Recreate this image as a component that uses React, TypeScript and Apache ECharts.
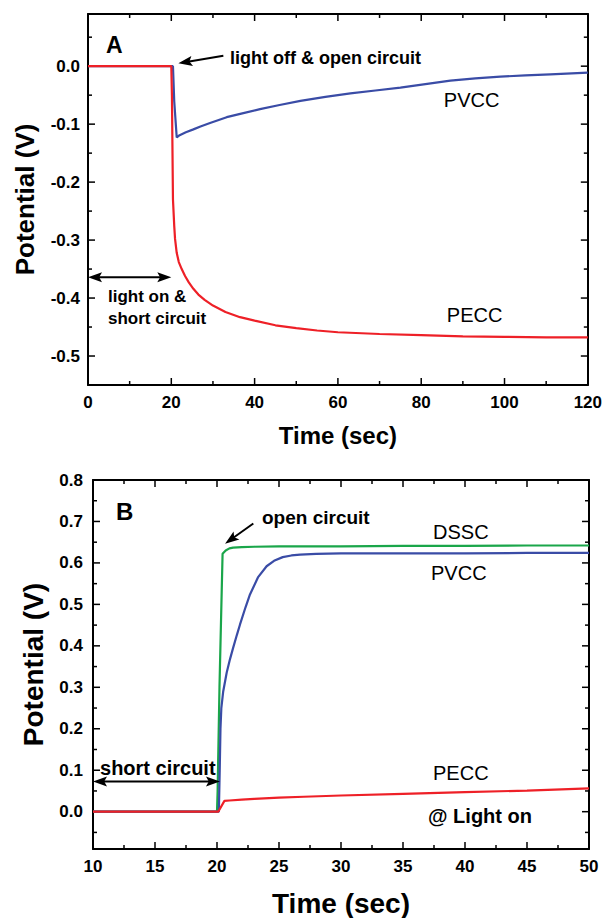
import React, { useEffect, useRef } from 'react';
import * as echarts from 'echarts';

// ---------- Panel A data (Time s, Potential V) ----------
const tA_PVCC = [0, 20, 20.4, 20.7, 21.3, 22, 23.5, 25.3, 27, 29.3, 33.3, 37.3, 41.3, 46, 51, 57, 63, 69, 75, 81, 87, 93, 99, 105, 111, 120];
const vA_PVCC = [0, 0, 0, -0.06, -0.123, -0.119, -0.114, -0.109, -0.104, -0.098, -0.088, -0.081, -0.074, -0.067, -0.06, -0.053, -0.047, -0.042, -0.037, -0.031, -0.025, -0.021, -0.018, -0.016, -0.014, -0.011];
const tA_PECC = [0, 20, 20.15, 20.4, 20.7, 20.9, 21.3, 21.8, 22.5, 23.3, 24.2, 25.3, 26.5, 28, 30, 33, 36.5, 40, 45, 50, 55, 60, 70, 80, 90, 100, 110, 120];
const vA_PECC = [0, 0, -0.05, -0.23, -0.275, -0.298, -0.322, -0.338, -0.35, -0.362, -0.373, -0.384, -0.394, -0.403, -0.413, -0.424, -0.433, -0.439, -0.447, -0.452, -0.456, -0.459, -0.462, -0.464, -0.466, -0.467, -0.468, -0.468];

// ---------- Panel B data ----------
const tB_DSSC = [10, 20, 20.05, 20.2, 20.45, 20.7, 21, 21.3, 22, 23, 25, 30, 35, 40, 45, 50];
const vB_DSSC = [0, 0, 0.05, 0.3, 0.622, 0.63, 0.635, 0.637, 0.638, 0.639, 0.64, 0.64, 0.641, 0.641, 0.642, 0.642];
const tB_PVCC = [10, 20.15, 20.22, 20.28, 20.35, 20.5, 20.78, 21.05, 21.3, 21.6, 21.85, 22.3, 22.66, 23.3, 24, 24.6, 25.3, 26, 26.7, 28, 30, 35, 40, 45, 50];
const vB_PVCC = [0, 0, 0.1, 0.2, 0.25, 0.29, 0.335, 0.368, 0.395, 0.426, 0.451, 0.493, 0.524, 0.565, 0.592, 0.605, 0.614, 0.618, 0.62, 0.622, 0.623, 0.623, 0.623, 0.624, 0.624];
const tB_PECC = [10, 20.1, 20.6, 21, 22, 23, 25, 27, 30, 35, 40, 45, 50];
const vB_PECC = [0, 0, 0.026, 0.027, 0.029, 0.031, 0.034, 0.036, 0.039, 0.043, 0.047, 0.051, 0.056];

// ---------- Axis ranges ----------
const xRangeA = [0, 120];
const xIntervalA = 20;
const yRangeA = [-0.55, 0.09];
const xRangeB = [10, 50];
const xIntervalB = 5;
const yRangeB = [-0.09, 0.8];
const yMajor = 0.1;

// ---------- Tick positions (major / minor) ----------
const xMajorA = [0, 20, 40, 60, 80, 100, 120];
const xMinorA = [10, 30, 50, 70, 90, 110];
const yMajorA = [-0.5, -0.4, -0.3, -0.2, -0.1, 0.0];
const yMinorA = [-0.45, -0.35, -0.25, -0.15, -0.05, 0.05];
const xMajorB = [10, 15, 20, 25, 30, 35, 40, 45, 50];
const xMinorB = [12.5, 17.5, 22.5, 27.5, 32.5, 37.5, 42.5, 47.5];
const yMajorB = [0.0, 0.1, 0.2, 0.3, 0.4, 0.5, 0.6, 0.7, 0.8];
const yMinorB = [-0.05, 0.05, 0.15, 0.25, 0.35, 0.45, 0.55, 0.65, 0.75];

// ---------- Annotation arrows (data coords: tail -> tip, double-headed flag) ----------
const arrowsA = [
  [32.5, 0.018, 21.7, 0.005, 0],
  [0, -0.364, 20.0, -0.364, 1],
];
const arrowsB = [
  [22.93, 0.695, 20.65, 0.6465, 0],
  [10, 0.073, 20.24, 0.073, 1],
];

// ---------- Annotation texts (anchor: left, vertical middle, in data coords) ----------
const annA_text = ['A', 'light off & open circuit', 'PVCC', 'light on &', 'short circuit', 'PECC'];
const annA_t = [4.32, 34.08, 85.44, 4.8, 4.8, 86.16];
const annA_v = [0.0366, 0.0141, -0.0583, -0.3981, -0.4361, -0.4292];
const annB_text = ['B', 'open circuit', 'DSSC', 'PVCC', 'short circuit', 'PECC', '@ Light on'];
const annB_t = [11.855, 23.63, 37.42, 37.26, 10.565, 37.42, 37.02];
const annB_v = [0.7229, 0.7084, 0.6746, 0.5757, 0.1054, 0.0934, -0.0104];

// styles (font size / bold) for the annotation texts
const annA_style = [[23, true], [18, true], [20, false], [17, true], [17, true], [20, false]];
const annB_style = [[24, true], [19, true], [20, false], [20, false], [20, true], [20, false], [20, true]];

const RED = '#ee2027';
const BLUE = '#3a4ca6';
const GREEN = '#1aa64a';
const FONT = '"Liberation Sans", Arial, Helvetica, sans-serif';

const zip = (t: number[], v: number[]) => t.map((x, i) => [x, v[i]]);

const lineAxis = { show: true, onZero: false, lineStyle: { color: '#000', width: 2 } };

function xAxes(grid: number, range: number[], interval: number, name: string, nameSize: number, nameGap: number) {
  const common: any = {
    gridIndex: grid, type: 'value', min: range[0], max: range[1], interval,
    splitLine: { show: false },
    axisLine: lineAxis,
    axisTick: { show: false },
    minorTick: { show: false },
  };
  return [
    {
      ...common, position: 'bottom',
      axisLabel: { show: true, color: '#000', fontSize: 17, fontWeight: 'bold', fontFamily: FONT, margin: 9 },
      name, nameLocation: 'middle', nameGap,
      nameTextStyle: { color: '#000', fontSize: nameSize, fontWeight: 'bold', fontFamily: FONT },
    },
    { ...common, position: 'top', axisLabel: { show: false } },
  ];
}

function yAxes(grid: number, range: number[], name: string, nameSize: number, nameGap: number, labelMargin: number, showMax: boolean) {
  const major: any = {
    gridIndex: grid, type: 'value', min: range[0], max: range[1], splitLine: { show: false },
    minInterval: yMajor, maxInterval: yMajor,
    axisLine: lineAxis,
    axisTick: { show: false },
  };
  return [
    {
      ...major, position: 'left',
      axisLabel: {
        show: true, color: '#000', fontSize: 17, fontWeight: 'bold', fontFamily: FONT, margin: labelMargin,
        showMinLabel: false, showMaxLabel: showMax,
        formatter: (v: number) => v.toFixed(1),
      },
      name, nameLocation: 'middle', nameGap, nameRotate: 90,
      nameTextStyle: { color: '#000', fontSize: nameSize, fontWeight: 'bold', fontFamily: FONT },
    },
    { ...major, position: 'right', axisLabel: { show: false } },
  ];
}

// tick rows: [x, y, kind]  kind 0 = x major, 1 = x minor, 2 = y major, 3 = y minor
function tickData(xMaj: number[], xMin: number[], yMaj: number[], yMin: number[], x0: number, y0: number) {
  return [
    ...xMaj.map((v) => [v, y0, 0]),
    ...xMin.map((v) => [v, y0, 1]),
    ...yMaj.map((v) => [x0, v, 2]),
    ...yMin.map((v) => [x0, v, 3]),
  ];
}

function tickRender(params: any, api: any) {
  const cs = params.coordSys;
  const kind = api.value(2);
  const len = kind % 2 === 0 ? 7 : 4;
  const style = { stroke: '#000', lineWidth: 1.5 };
  const p = api.coord([api.value(0), api.value(1)]);
  if (kind < 2) {
    const x = p[0];
    const yb = cs.y + cs.height;
    return {
      type: 'group',
      children: [
        { type: 'line', shape: { x1: x, y1: yb, x2: x, y2: yb - len }, style },
        { type: 'line', shape: { x1: x, y1: cs.y, x2: x, y2: cs.y + len }, style },
      ],
    };
  }
  const y = p[1];
  const xr = cs.x + cs.width;
  return {
    type: 'group',
    children: [
      { type: 'line', shape: { x1: cs.x, y1: y, x2: cs.x + len, y2: y }, style },
      { type: 'line', shape: { x1: xr, y1: y, x2: xr - len, y2: y }, style },
    ],
  };
}

function arrowRender(params: any, api: any) {
  const p1 = api.coord([api.value(0), api.value(1)]);
  const p2 = api.coord([api.value(2), api.value(3)]);
  const both = api.value(4) === 1;
  const dx = p2[0] - p1[0];
  const dy = p2[1] - p1[1];
  const L = Math.hypot(dx, dy) || 1;
  const ux = dx / L;
  const uy = dy / L;
  const len = 14;
  const w = 5;
  const head = (tip: number[], sx: number, sy: number) => {
    const bx = tip[0] - sx * len;
    const by = tip[1] - sy * len;
    return {
      type: 'polygon',
      shape: {
        points: [
          [tip[0], tip[1]],
          [bx - sy * w, by + sx * w],
          [tip[0] - sx * len * 0.8, tip[1] - sy * len * 0.8],
          [bx + sy * w, by - sx * w],
        ],
      },
      style: { fill: '#000' },
    };
  };
  const s = both ? [p1[0] + ux * 8, p1[1] + uy * 8] : p1;
  const e = [p2[0] - ux * 8, p2[1] - uy * 8];
  const children: any[] = [
    { type: 'line', shape: { x1: s[0], y1: s[1], x2: e[0], y2: e[1] }, style: { stroke: '#000', lineWidth: 2 } },
    head(p2, ux, uy),
  ];
  if (both) children.push(head(p1, -ux, -uy));
  return { type: 'group', children };
}

function textRender(texts: string[], styles: any[]) {
  return (params: any, api: any) => {
    const p = api.coord([api.value(0), api.value(1)]);
    const st = styles[params.dataIndex];
    return {
      type: 'text', x: p[0], y: p[1],
      style: {
        text: texts[params.dataIndex], fill: '#000',
        font: `${st[1] ? 'bold ' : ''}${st[0]}px ${FONT}`,
        align: 'left', verticalAlign: 'middle',
      },
    };
  };
}

export default function App() {
  const ref = useRef<HTMLDivElement>(null);
  useEffect(() => {
    if (!ref.current) return;
    const chart = echarts.init(ref.current, undefined, { renderer: 'svg' });
    chart.setOption({
      animation: false,
      grid: [
        { left: 88, top: 14, width: 500, height: 371 },
        { left: 93, top: 480, width: 496, height: 369 },
      ],
      xAxis: [
        ...xAxes(0, xRangeA, xIntervalA, 'Time (sec)', 24, 38),
        ...xAxes(1, xRangeB, xIntervalB, 'Time (sec)', 28, 40),
      ],
      yAxis: [
        ...yAxes(0, yRangeA, 'Potential (V)', 26, 50, 8, false),
        ...yAxes(1, yRangeB, 'Potential (V)', 28, 46, 10, true),
      ],
      series: [
        {
          type: 'custom', xAxisIndex: 0, yAxisIndex: 0, silent: true, z: 1, clip: false,
          data: tickData(xMajorA, xMinorA, yMajorA, yMinorA, xRangeA[0], yRangeA[0]), renderItem: tickRender,
        },
        {
          type: 'custom', xAxisIndex: 2, yAxisIndex: 2, silent: true, z: 1, clip: false,
          data: tickData(xMajorB, xMinorB, yMajorB, yMinorB, xRangeB[0], yRangeB[0]), renderItem: tickRender,
        },
        {
          type: 'line', xAxisIndex: 0, yAxisIndex: 0, data: zip(tA_PVCC, vA_PVCC),
          showSymbol: false, lineStyle: { color: BLUE, width: 2.2 }, itemStyle: { color: BLUE },
        },
        {
          type: 'line', xAxisIndex: 0, yAxisIndex: 0, data: zip(tA_PECC, vA_PECC),
          showSymbol: false, lineStyle: { color: RED, width: 2.2 }, itemStyle: { color: RED },
        },
        {
          type: 'line', xAxisIndex: 2, yAxisIndex: 2, data: zip(tB_DSSC, vB_DSSC),
          showSymbol: false, lineStyle: { color: GREEN, width: 2.2 }, itemStyle: { color: GREEN },
        },
        {
          type: 'line', xAxisIndex: 2, yAxisIndex: 2, data: zip(tB_PVCC, vB_PVCC),
          showSymbol: false, lineStyle: { color: BLUE, width: 2.2 }, itemStyle: { color: BLUE },
        },
        {
          type: 'line', xAxisIndex: 2, yAxisIndex: 2, data: zip(tB_PECC, vB_PECC),
          showSymbol: false, lineStyle: { color: RED, width: 2.2 }, itemStyle: { color: RED },
        },
        {
          type: 'custom', xAxisIndex: 0, yAxisIndex: 0, silent: true, z: 5,
          data: arrowsA, encode: { x: [0, 2], y: [1, 3] }, renderItem: arrowRender,
        },
        {
          type: 'custom', xAxisIndex: 2, yAxisIndex: 2, silent: true, z: 5,
          data: arrowsB, encode: { x: [0, 2], y: [1, 3] }, renderItem: arrowRender,
        },
        {
          type: 'custom', xAxisIndex: 0, yAxisIndex: 0, silent: true, z: 5,
          data: zip(annA_t, annA_v), renderItem: textRender(annA_text, annA_style),
        },
        {
          type: 'custom', xAxisIndex: 2, yAxisIndex: 2, silent: true, z: 5,
          data: zip(annB_t, annB_v), renderItem: textRender(annB_text, annB_style),
        },
      ],
    });
    return () => chart.dispose();
  }, []);
  return <div ref={ref} style={{ position: 'absolute', left: 0, top: 0, width: 605, height: 918 }} />;
}
